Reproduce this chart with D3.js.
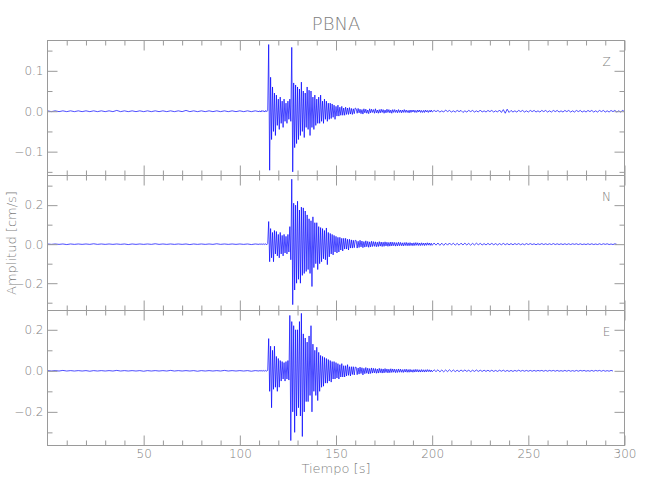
<!DOCTYPE html>
<html><head><meta charset="utf-8">
<script src="https://cdn.jsdelivr.net/npm/d3@7"></script>
<style>
body{margin:0;background:#fff;}
svg{display:block;}
text{font-family:"DejaVu Sans",sans-serif;font-stretch:condensed;font-weight:300;fill:#808080;}
</style></head><body>
<svg id="c" width="650" height="500"></svg>
<script>
// ---------------- data ----------------
const title = "PBNA";
const components = ["Z", "N", "E"];
const xLabel = "Tiempo [s]";
const yLabel = "Amplitud [cm/s]";
const xDomain = [0, 300];
const xMajorTicks = [50, 100, 150, 200, 250, 300];
const xMinorTicks = [10,20,30,40,60,70,80,90,110,120,130,140,160,170,180,190,210,220,230,240,260,270,280,290];
const yDomains = [[-0.159, 0.175], [-0.34, 0.352], [-0.364, 0.294]];
const yMajorTicks = [[-0.1, 0, 0.1], [-0.2, 0, 0.2], [-0.2, 0, 0.2]];
const yMinorTicks = [[-0.15, -0.05, 0.05, 0.15], [-0.3, -0.1, 0.1, 0.3], [-0.3, -0.1, 0.1]];

// segment time spans [start, end] (s)
const preSpan = [0, 110];
const mainSpan = [110.5, 160];
const tailSpan = [160.5, 200];
const lateSpanZ = [201, 300];
const lateSpanN = [201, 296];
const lateSpanE = [201, 294];

// Z component (cm/s)
const zPre = [0.001,-0.001,0.001,-0.001,0.001,-0.001,0.001,-0.001,0.001,-0.001,0.001,-0.001,0.001,-0.001,0.001,-0.001,0.001,-0.001,0.002,-0.001,0.001,-0.001,0.001,-0.001,0.001,-0.001,0.001,-0.001,0.001,-0.001,0.001,-0.001,0.001,-0.001,0.001,-0.001,0.002,-0.001,0.001,-0.001,0.001,-0.001,0.001,-0.001,0.001,-0.001,0.001,-0.001,0.001,-0.001,0.001,-0.001,0.001,-0.001,0.001,-0.001];
const zMain = [0.001,-0.002,0.002,-0.001,0.001,-0.002,0.002,-0.001,0.002,
  0.165,-0.146,0.084,-0.07,0.06,-0.05,0.045,-0.06,0.04,-0.035,
  0.03,-0.045,0.035,-0.03,0.025,-0.04,0.03,-0.025,0.02,-0.03,
  0.025,-0.02,0.03,-0.025,0.158,-0.15,0.07,-0.09,0.065,-0.08,
  0.06,-0.07,0.055,-0.06,0.072,-0.05,0.05,-0.065,0.045,-0.04,
  0.06,-0.045,0.052,-0.06,0.05,-0.04,0.035,-0.045,0.04,-0.035,
  0.03,-0.03,0.035,-0.03,0.04,-0.025,0.025,-0.03,0.03,-0.02,
  0.025,-0.025,0.02,-0.02,0.02,-0.018,0.018,-0.015,0.015,-0.02,
  0.012,-0.012,0.015,-0.012,0.01,-0.01,0.012,-0.01,0.008,-0.01,
  0.01,-0.008,0.008,-0.008,0.009,-0.007,0.007,-0.008,0.006,-0.006,0.008];
const zTail = [0.006,-0.005,0.007,-0.004,0.005,-0.006,0.004,-0.007,0.006,-0.004,
  0.005,-0.005,0.003,-0.006,0.006,-0.004,0.005,-0.003,0.004,-0.005,
  0.006,-0.004,0.003,-0.005,0.004,-0.004,0.005,-0.003,0.004,-0.005,
  0.003,-0.004,0.005,-0.003,0.004,-0.004,0.003,-0.005,0.004,-0.003,
  0.004,-0.003,0.003,-0.004,0.004,-0.003,0.003,-0.004,0.003,-0.003,
  0.004,-0.003,0.003,-0.003,0.002,-0.004,0.003,-0.003,0.003,-0.002,
  0.003,-0.003,0.002,-0.003,0.003,-0.002,0.003,-0.003,0.002,-0.003,
  0.002,-0.003,0.003,-0.002,0.002,-0.003,0.002,-0.002,0.003,-0.002];
const zLate = [0.002,-0.001,0.002,-0.002,0.001,-0.002,0.003,-0.001,0.002,-0.002,
  0.001,-0.002,0.002,-0.001,0.002,-0.003,0.001,-0.002,0.002,-0.001,
  0.002,-0.002,0.001,-0.002,0.003,-0.002,0.001,-0.002,0.002,-0.001,
  0.002,-0.002,0.001,-0.002,0.003,-0.003,0.004,-0.005,0.005,-0.003,
  0.002,-0.002,0.001,-0.002,0.002,-0.001,0.002,-0.002,0.001,-0.002,
  0.002,-0.001,0.002,-0.002,0.001,-0.002,0.002,-0.001,0.002,-0.002,
  0.001,-0.002,0.002,-0.001,0.002,-0.002,0.001,-0.002,0.002,-0.001,
  0.002,-0.002,0.001,-0.002,0.002,-0.001,0.002,-0.002,0.001,-0.002,
  0.002,-0.001,0.002,-0.002,0.001,-0.002,0.002,-0.001,0.002,-0.002,
  0.001,-0.002,0.002,-0.001,0.002,-0.002,0.001,-0.002,0.002,-0.001];

// N component (cm/s)
const nPre = [0.001,-0.001,0.001,-0.001,0.001,-0.002,0.001,-0.001,0.001,-0.001,0.001,-0.001,0.002,-0.001,0.001,-0.001,0.001,-0.001,0.001,-0.001,0.001,-0.002,0.001,-0.001,0.001,-0.001,0.001,-0.001,0.002,-0.001,0.001,-0.001,0.001,-0.001,0.001,-0.001,0.001,-0.002,0.001,-0.001,0.001,-0.001,0.001,-0.001,0.002,-0.001,0.001,-0.001,0.001,-0.001,0.001,-0.001,0.001,-0.002,0.001,-0.001];
const nMain = [0.002,-0.002,0.002,-0.002,0.002,-0.002,0.002,-0.003,0.003,
  0.116,-0.09,0.08,-0.07,0.06,-0.09,0.07,-0.05,0.065,-0.06,
  0.05,-0.07,0.06,-0.05,0.045,-0.06,0.05,-0.045,0.04,-0.05,
  0.05,-0.04,0.09,-0.08,0.333,-0.31,0.21,-0.235,0.2,-0.2,
  0.22,-0.18,0.175,-0.2,0.19,-0.16,0.186,-0.15,0.17,-0.14,
  0.15,-0.13,0.13,-0.15,0.12,-0.217,0.14,-0.12,0.11,-0.1,
  0.11,-0.13,0.09,-0.1,0.085,-0.09,0.08,-0.075,0.07,-0.08,
  0.083,-0.105,0.06,-0.065,0.055,-0.05,0.05,-0.055,0.045,-0.04,
  0.04,-0.045,0.035,-0.04,0.035,-0.03,0.03,-0.035,0.03,-0.025,
  0.03,-0.025,0.025,-0.03,0.025,-0.02,0.022,-0.02,0.02,-0.018,0.02];
const nTail = [0.018,-0.02,0.015,-0.017,0.02,-0.014,0.016,-0.018,0.013,-0.015,
  0.017,-0.013,0.014,-0.016,0.012,-0.014,0.015,-0.012,0.013,-0.011,
  0.012,-0.013,0.01,-0.012,0.013,-0.01,0.011,-0.012,0.01,-0.011,
  0.012,-0.009,0.01,-0.011,0.009,-0.01,0.011,-0.009,0.01,-0.008,
  0.009,-0.01,0.008,-0.009,0.01,-0.008,0.009,-0.008,0.007,-0.009,
  0.008,-0.007,0.009,-0.008,0.007,-0.008,0.008,-0.007,0.006,-0.008,
  0.007,-0.007,0.008,-0.006,0.007,-0.007,0.006,-0.007,0.007,-0.006,
  0.006,-0.007,0.006,-0.006,0.007,-0.005,0.006,-0.006,0.005,-0.006];
const nLate = [0.006,-0.005,0.006,-0.006,0.005,-0.006,0.005,-0.005,0.006,-0.004,
  0.005,-0.005,0.004,-0.005,0.005,-0.004,0.005,-0.004,0.004,-0.005,
  0.004,-0.004,0.005,-0.003,0.004,-0.004,0.003,-0.004,0.004,-0.003,
  0.004,-0.003,0.003,-0.004,0.003,-0.003,0.004,-0.003,0.003,-0.003,
  0.003,-0.003,0.003,-0.002,0.003,-0.003,0.002,-0.003,0.003,-0.002,
  0.003,-0.002,0.002,-0.003,0.002,-0.002,0.003,-0.002,0.002,-0.002,
  0.002,-0.002,0.003,-0.002,0.002,-0.002,0.002,-0.002,0.002,-0.002,
  0.002,-0.002,0.002,-0.001,0.002,-0.002,0.002,-0.002,0.001,-0.002,
  0.002,-0.002,0.002,-0.002,0.001,-0.002,0.002,-0.002,0.002,-0.001,
  0.002,-0.002,0.001,-0.002,0.002,-0.001];

// E component (cm/s)
const ePre = [0.001,-0.001,0.001,-0.001,0.002,-0.001,0.001,-0.001,0.001,-0.001,0.001,-0.002,0.001,-0.001,0.001,-0.001,0.001,-0.001,0.002,-0.001,0.001,-0.001,0.001,-0.001,0.001,-0.002,0.001,-0.001,0.001,-0.001,0.001,-0.001,0.002,-0.001,0.001,-0.001,0.001,-0.001,0.001,-0.002,0.001,-0.001,0.001,-0.001,0.001,-0.001,0.002,-0.001,0.001,-0.001,0.001,-0.001,0.001,-0.002,0.001,-0.001];
const eMain = [0.002,-0.002,0.002,-0.002,0.002,-0.002,0.002,-0.002,0.003,
  0.157,-0.1,0.12,-0.18,0.1,-0.09,0.12,-0.08,0.07,-0.1,
  0.06,-0.08,0.05,-0.05,0.045,-0.04,0.04,-0.05,0.045,-0.04,
  0.05,-0.045,0.27,-0.34,0.24,-0.2,0.22,-0.3,0.2,-0.22,
  0.2,-0.18,0.24,-0.22,0.28,-0.32,0.18,-0.2,0.16,-0.15,
  0.14,-0.15,0.17,-0.12,0.22,-0.2,0.13,-0.1,0.1,-0.12,
  0.115,-0.145,0.09,-0.1,0.075,-0.08,0.07,-0.075,0.065,-0.06,
  0.06,-0.06,0.055,-0.05,0.05,-0.055,0.045,-0.04,0.045,-0.04,
  0.04,-0.035,0.035,-0.04,0.03,-0.03,0.035,-0.03,0.025,-0.03,
  0.025,-0.025,0.03,-0.022,0.02,-0.025,0.02,-0.018,0.02,-0.02,0.018];
const eTail = [0.017,-0.019,0.014,-0.016,0.018,-0.013,0.015,-0.02,0.012,-0.014,
  0.016,-0.012,0.013,-0.015,0.011,-0.013,0.014,-0.011,0.012,-0.01,
  0.011,-0.012,0.009,-0.011,0.012,-0.009,0.01,-0.011,0.009,-0.01,
  0.011,-0.008,0.009,-0.01,0.008,-0.009,0.01,-0.008,0.009,-0.007,
  0.008,-0.009,0.007,-0.008,0.009,-0.007,0.008,-0.007,0.006,-0.008,
  0.007,-0.006,0.008,-0.007,0.006,-0.007,0.007,-0.006,0.005,-0.007,
  0.006,-0.006,0.007,-0.005,0.006,-0.006,0.005,-0.006,0.006,-0.005,
  0.005,-0.006,0.005,-0.005,0.006,-0.004,0.005,-0.005,0.004,-0.005];
const eLate = [0.005,-0.004,0.005,-0.005,0.004,-0.005,0.004,-0.004,0.005,-0.004,
  0.004,-0.004,0.003,-0.004,0.004,-0.003,0.004,-0.003,0.003,-0.004,
  0.003,-0.003,0.004,-0.003,0.003,-0.003,0.003,-0.003,0.003,-0.003,
  0.003,-0.003,0.002,-0.003,0.003,-0.002,0.003,-0.003,0.002,-0.003,
  0.002,-0.003,0.002,-0.002,0.003,-0.002,0.002,-0.002,0.002,-0.002,
  0.002,-0.002,0.002,-0.002,0.002,-0.001,0.002,-0.002,0.002,-0.002,
  0.002,-0.001,0.002,-0.002,0.002,-0.002,0.001,-0.002,0.002,-0.002,
  0.002,-0.002,0.001,-0.002,0.002,-0.002,0.002,-0.001,0.002,-0.002,
  0.001,-0.002,0.002,-0.002,0.002,-0.001,0.002,-0.002,0.002,-0.002,
  0.001,-0.002,0.002,-0.001];

// ---------------- build ----------------
function segment(span, vals) {
  const t = d3.scaleLinear().domain([0, Math.max(1, vals.length - 1)]).range(span);
  return vals.map((v, i) => [t(i), v]);
}
const series = [
  [].concat(segment(preSpan, zPre), segment(mainSpan, zMain), segment(tailSpan, zTail), segment(lateSpanZ, zLate)),
  [].concat(segment(preSpan, nPre), segment(mainSpan, nMain), segment(tailSpan, nTail), segment(lateSpanN, nLate)),
  [].concat(segment(preSpan, ePre), segment(mainSpan, eMain), segment(tailSpan, eTail), segment(lateSpanE, eLate))
];

const svg = d3.select("#c");
const L = 47.5, R = 624.5;
const panelTops = [40.5, 175.5, 310.5];
const panelH = 135;
const axisColor = "#9a9a9a";
const textColor = "#808080";
const fontFam = '"DejaVu Sans",sans-serif';

const x = d3.scaleLinear().domain(xDomain).range([L, R]);

svg.append("text").attr("x", (L + R) / 2).attr("y", 30).attr("text-anchor", "middle")
  .style("font-size", "18px").text(title);

components.forEach((comp, k) => {
  const top = panelTops[k], bot = top + panelH;
  const y = d3.scaleLinear().domain(yDomains[k]).range([bot, top]);
  const g = svg.append("g");

  const cid = "clip" + k;
  svg.append("clipPath").attr("id", cid).append("rect")
    .attr("x", L).attr("y", top).attr("width", R - L).attr("height", panelH);

  const line = d3.line().x(d => x(d[0])).y(d => y(d[1]));
  g.append("path").datum(series[k]).attr("clip-path", `url(#${cid})`)
    .attr("d", line).attr("fill", "none").attr("stroke", "#0000ff")
    .attr("stroke-width", 0.7).attr("stroke-linejoin", "round");

  function styleAxis(sel) {
    sel.select(".domain").remove();
    sel.selectAll(".tick line").attr("stroke", axisColor);
    sel.selectAll("text").attr("fill", textColor)
      .style("font-family", fontFam).style("font-stretch", "condensed")
      .style("font-weight", "300").style("font-size", "12px");
  }
  // y axes
  g.append("g").attr("transform", `translate(${L},0)`)
    .call(d3.axisLeft(y).tickValues(yMajorTicks[k]).tickSize(-10).tickPadding(4).tickFormat(d3.format(".1f")))
    .call(styleAxis);
  g.append("g").attr("transform", `translate(${L},0)`)
    .call(d3.axisLeft(y).tickValues(yMinorTicks[k]).tickSize(-5).tickFormat(""))
    .call(styleAxis);
  g.append("g").attr("transform", `translate(${R},0)`)
    .call(d3.axisRight(y).tickValues(yMajorTicks[k]).tickSize(-10).tickFormat(""))
    .call(styleAxis);
  g.append("g").attr("transform", `translate(${R},0)`)
    .call(d3.axisRight(y).tickValues(yMinorTicks[k]).tickSize(-5).tickFormat(""))
    .call(styleAxis);
  // x axes
  g.append("g").attr("transform", `translate(0,${top})`)
    .call(d3.axisTop(x).tickValues(xMajorTicks).tickSize(-10).tickFormat(""))
    .call(styleAxis);
  g.append("g").attr("transform", `translate(0,${top})`)
    .call(d3.axisTop(x).tickValues(xMinorTicks).tickSize(-5).tickFormat(""))
    .call(styleAxis);
  g.append("g").attr("transform", `translate(0,${bot})`)
    .call(d3.axisBottom(x).tickValues(xMajorTicks).tickSize(-10).tickPadding(4)
      .tickFormat(k === 2 ? d3.format("d") : ""))
    .call(styleAxis);
  g.append("g").attr("transform", `translate(0,${bot})`)
    .call(d3.axisBottom(x).tickValues(xMinorTicks).tickSize(-5).tickFormat(""))
    .call(styleAxis);

  // frame
  g.append("rect").attr("x", L).attr("y", top).attr("width", R - L).attr("height", panelH)
    .attr("fill", "none").attr("stroke", axisColor).attr("stroke-width", 1);

  g.append("text").attr("x", R - 18).attr("y", top + 25).attr("text-anchor", "middle")
    .style("font-size", "12px").text(comp);
});

svg.append("text").attr("x", (L + R) / 2).attr("y", 473).attr("text-anchor", "middle")
  .style("font-size", "13px").text(xLabel);
svg.append("text").attr("transform", `translate(16,${panelTops[1] + panelH / 2}) rotate(-90)`)
  .attr("text-anchor", "middle").style("font-size", "13px").text(yLabel);
</script>
</body></html>
